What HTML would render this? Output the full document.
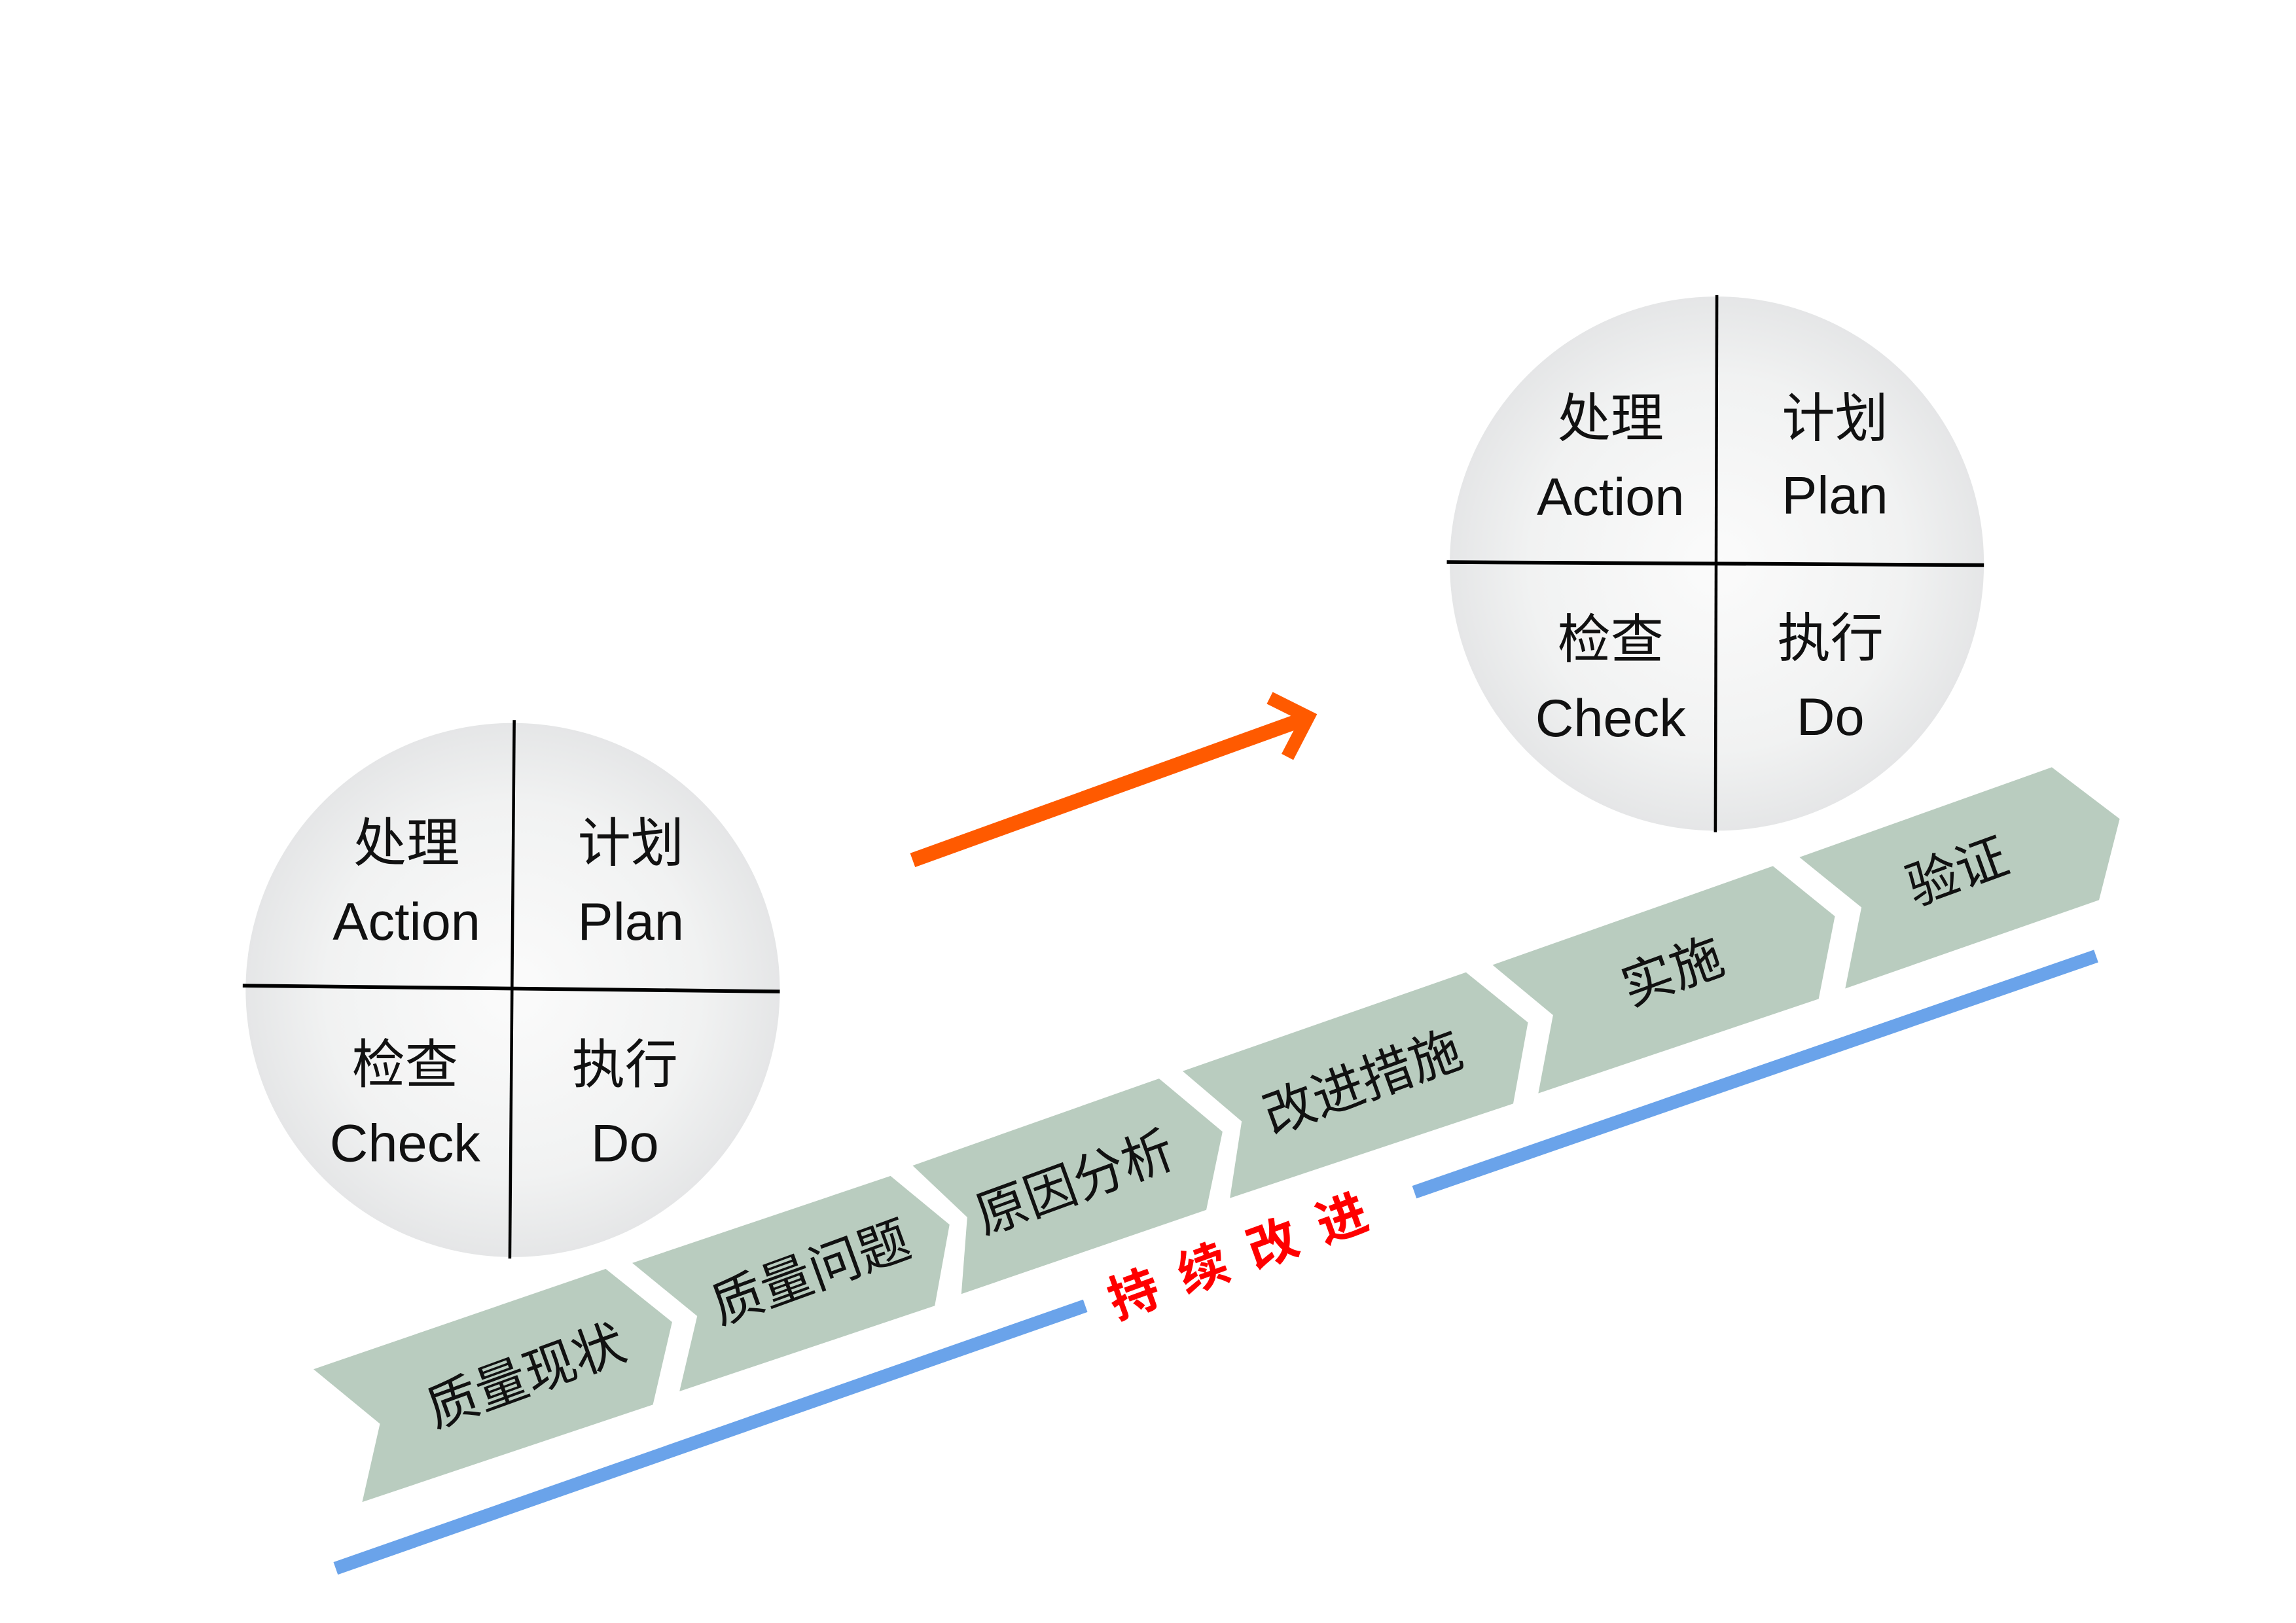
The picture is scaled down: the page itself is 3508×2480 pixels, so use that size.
<!DOCTYPE html>
<html><head><meta charset="utf-8">
<style>
html,body{margin:0;padding:0;background:#fff;}
svg{display:block;}
text{font-family:"Liberation Sans","Noto Sans CJK SC",sans-serif;}
</style></head>
<body>
<svg width="3508" height="2480" viewBox="0 0 1555 1100" xmlns="http://www.w3.org/2000/svg">
<defs>
<radialGradient id="g" cx="0.5" cy="0.5" r="0.5">
<stop offset="0" stop-color="#fbfbfb"/>
<stop offset="0.7" stop-color="#f1f2f2"/>
<stop offset="1" stop-color="#e5e6e7"/>
</radialGradient>
</defs>
<rect width="1555" height="1100" fill="#fff"/>

<circle cx="347" cy="671" r="181" fill="url(#g)"/>
<line x1="348" y1="488" x2="345" y2="853" stroke="#000" stroke-width="2"/>
<line x1="164" y1="668" x2="528" y2="672" stroke="#000" stroke-width="2.5"/>
<g font-size="36" text-anchor="middle" fill="#111">
<text x="275" y="584">处理</text>
<text x="275" y="637">Action</text>
<text x="427" y="584">计划</text>
<text x="427" y="637">Plan</text>
<text x="274" y="734">检查</text>
<text x="274" y="787">Check</text>
<text x="423" y="734">执行</text>
<text x="423" y="787">Do</text>
</g>

<circle cx="1163" cy="382" r="181" fill="url(#g)"/>
<line x1="1163" y1="200" x2="1162" y2="564" stroke="#000" stroke-width="2"/>
<line x1="980" y1="381" x2="1344" y2="383" stroke="#000" stroke-width="2.5"/>
<g font-size="36" text-anchor="middle" fill="#111">
<text x="1091" y="296">处理</text>
<text x="1091" y="349">Action</text>
<text x="1243" y="296">计划</text>
<text x="1243" y="348">Plan</text>
<text x="1091" y="446">检查</text>
<text x="1091" y="499">Check</text>
<text x="1240" y="445">执行</text>
<text x="1240" y="498">Do</text>
</g>

<line x1="618" y1="583" x2="884" y2="487" stroke="#ff5a00" stroke-width="10"/>
<polyline points="860,473 886,486 872,513" fill="none" stroke="#ff5a00" stroke-width="9"/>

<g fill="#b9ccbf">
<polygon points="212,928 410,860 455,896 442,952 245,1018 257,965"/>
<polygon points="428,856 603,797 643,830 633,885 460,943 472,892"/>
<polygon points="618,790 785,731 828,767 817,820 651,877 655,825"/>
<polygon points="801,726 993,659 1035,693 1025,748 833,812 841,760"/>
<polygon points="1011,654 1201,587 1243,621 1232,677 1042,741 1052,688"/>
<polygon points="1219,581 1390,520 1436,555 1422,610 1250,670 1261,615"/>
</g>
<g font-size="35" text-anchor="middle" fill="#111">
<text transform="translate(360,944) rotate(-20)">质量现状</text>
<text transform="translate(553,874) rotate(-20)">质量问题</text>
<text transform="translate(732,813) rotate(-20)">原因分析</text>
<text transform="translate(927,745) rotate(-20)">改进措施</text>
<text transform="translate(1137,670) rotate(-20)">实施</text>
<text transform="translate(1330,602) rotate(-20)">验证</text>
</g>

<line x1="227" y1="1063" x2="735" y2="885" stroke="#6aa3ea" stroke-width="9"/>
<line x1="958" y1="808" x2="1420" y2="648" stroke="#6aa3ea" stroke-width="9"/>
<text transform="translate(850,860) rotate(-20)" font-size="34" font-weight="bold" fill="#ff0000" text-anchor="middle" letter-spacing="16">持续改进</text>
</svg>
</body></html>
